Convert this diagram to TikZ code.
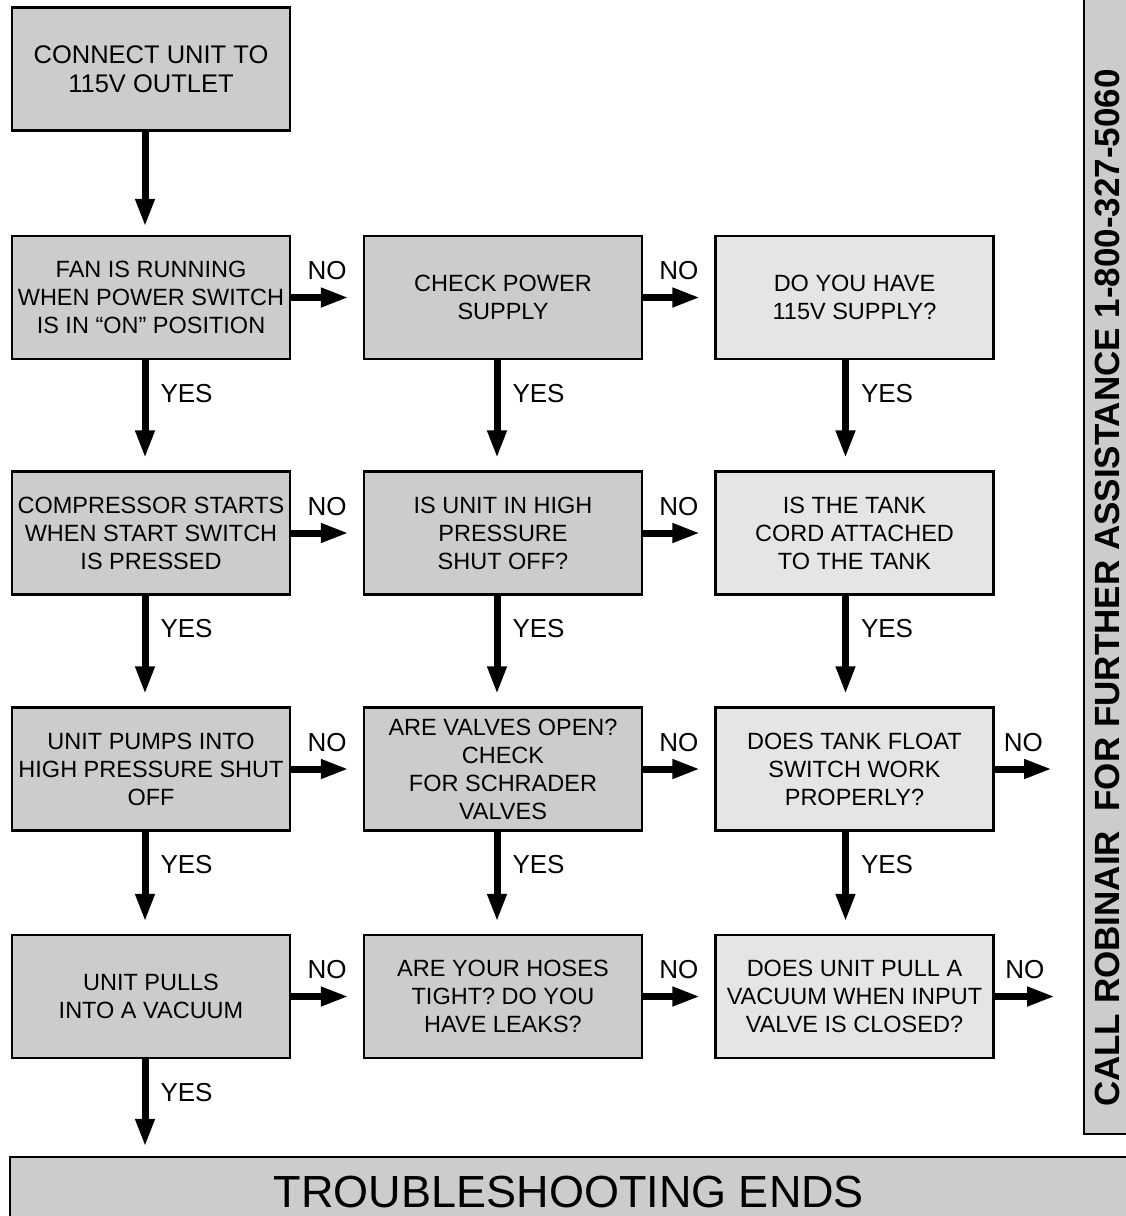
\documentclass[tikz,border=0pt]{standalone}
\usepackage{fontspec}
\setmainfont{Liberation Sans}
\usepackage{xcolor}
\definecolor{boxgray}{RGB}{204,204,204}
\definecolor{boxlight}{RGB}{229,229,229}
\usepackage{tikz}
\usetikzlibrary{arrows.meta}
\newcommand{\widthbox}{278pt}
\newcommand{\heightbox}{123pt}
\newcommand{\boxfont}{\fontsize{23.5}{28}\selectfont}
\newcommand{\answerfont}{\fontsize{26}{30}\selectfont}
\tikzset{
    common/.style={draw, rectangle, line width=2.5pt, align=center, inner sep=0pt, minimum width=\widthbox, minimum height=\heightbox, font=\boxfont},
    dark/.style={common, fill=boxgray},
    light/.style={common, fill=boxlight},
    flow/.style={-{Triangle[width=18pt,length=28pt]}, line width=7pt},
    down/.style={flow, shorten >=12pt},
    across/.style={flow, shorten >=14pt},
    yes/.style={pos=0, anchor=base west, inner sep=0pt, xshift=12pt, yshift=-42pt, font=\answerfont},
    no/.style={midway, above=14pt, inner sep=0pt, font=\answerfont}
}

\begin{document}
\begin{tikzpicture}[x=1pt, y=-1pt]
          \useasboundingbox[fill=white] (0,0) rectangle (1126,1216);

          \path (151,69) node[dark, font=\fontsize{25.5}{29}\selectfont] (connect) {CONNECT UNIT TO\\115V OUTLET};

          \path (151,297.5) node[dark] (fan) {FAN IS RUNNING\\WHEN POWER SWITCH\\IS IN “ON” POSITION}
            ++(352,0) node[dark] (power) {CHECK POWER\\SUPPLY}
            ++(351.5,0) node[light] (supply) {DO YOU HAVE\\115V SUPPLY?};

          \path (151,533) node[dark] (compressor) {COMPRESSOR STARTS\\WHEN START SWITCH\\IS PRESSED}
            ++(352,0) node[dark] (highpressure) {IS UNIT IN HIGH\\PRESSURE\\SHUT OFF?}
            ++(351.5,0) node[light] (tankcord) {IS THE TANK\\CORD ATTACHED\\TO THE TANK};

          \path (151,769) node[dark] (pumps) {UNIT PUMPS INTO\\HIGH PRESSURE SHUT\\OFF}
            ++(352,0) node[dark] (valves) {ARE VALVES OPEN?\\CHECK\\FOR SCHRADER\\VALVES}
            ++(351.5,0) node[light] (float) {DOES TANK FLOAT\\SWITCH WORK\\PROPERLY?}
            ++(197.5,0) coordinate (float-no);

          \path (151,996.5) node[dark] (vacuum) {UNIT PULLS\\INTO A VACUUM}
            ++(352,0) node[dark] (hoses) {ARE YOUR HOSES\\TIGHT? DO YOU\\HAVE LEAKS?}
            ++(351.5,0) node[light] (inputvalve) {DOES UNIT PULL A\\VACUUM WHEN INPUT\\VALVE IS CLOSED?}
            ++(200.5,0) coordinate (inputvalve-no);

          \node[draw, fill=boxgray, line width=2.5pt, inner sep=0pt, minimum width=1118pt, text height=50pt, text depth=11pt,
                font=\fontsize{45}{50}\selectfont] (ends) at (569,1187.5) {TROUBLESHOOTING ENDS};

          \node[draw, fill=boxgray, line width=2.5pt, minimum width=44pt, minimum height=1136pt] (sidebar) at (1106,566) {};
          \node[rotate=90, inner sep=0pt, font=\bfseries\fontsize{35}{40}\selectfont] (callus) at (1107,588)
            {CALL ROBINAIR~~FOR FURTHER ASSISTANCE 1-800-327-5060};

          \draw[flow, shorten >=8pt] ([xshift=-6pt]connect.south) -- ([xshift=-6pt]fan.north);

          \draw[down] ([xshift=-6pt]fan.south) -- node[yes] {YES} ([xshift=-6pt]compressor.north);
          \draw[down] ([xshift=-6pt]compressor.south) -- node[yes] {YES} ([xshift=-6pt]pumps.north);
          \draw[down] ([xshift=-6pt]pumps.south) -- node[yes] {YES} ([xshift=-6pt]vacuum.north);
          \draw[down, shorten >=9pt] ([xshift=-6pt]vacuum.south) -- node[yes] {YES} ([xshift=-6pt]vacuum.south |- ends.north);

          \draw[down] ([xshift=-6pt]power.south) -- node[yes] {YES} ([xshift=-6pt]highpressure.north);
          \draw[down] ([xshift=-6pt]highpressure.south) -- node[yes] {YES} ([xshift=-6pt]valves.north);
          \draw[down] ([xshift=-6pt]valves.south) -- node[yes] {YES} ([xshift=-6pt]hoses.north);

          \draw[down] ([xshift=-9pt]supply.south) -- node[yes] {YES} ([xshift=-9pt]tankcord.north);
          \draw[down] ([xshift=-9pt]tankcord.south) -- node[yes] {YES} ([xshift=-9pt]float.north);
          \draw[down] ([xshift=-9pt]float.south) -- node[yes] {YES} ([xshift=-9pt]inputvalve.north);

          \draw[across] (fan.east) -- node[no] {NO} (power.west);
          \draw[across] (power.east) -- node[no] {NO} (supply.west);
          \draw[across] (compressor.east) -- node[no] {NO} (highpressure.west);
          \draw[across] (highpressure.east) -- node[no] {NO} (tankcord.west);
          \draw[across] (pumps.east) -- node[no] {NO} (valves.west);
          \draw[across] (valves.east) -- node[no] {NO} (float.west);
          \draw[across] (vacuum.east) -- node[no] {NO} (hoses.west);
          \draw[across] (hoses.east) -- node[no] {NO} (inputvalve.west);
          \draw[flow] (float.east) -- node[no] {NO} (float-no);
          \draw[flow] (inputvalve.east) -- node[no] {NO} (inputvalve-no);
        \end{tikzpicture}
\end{document}
